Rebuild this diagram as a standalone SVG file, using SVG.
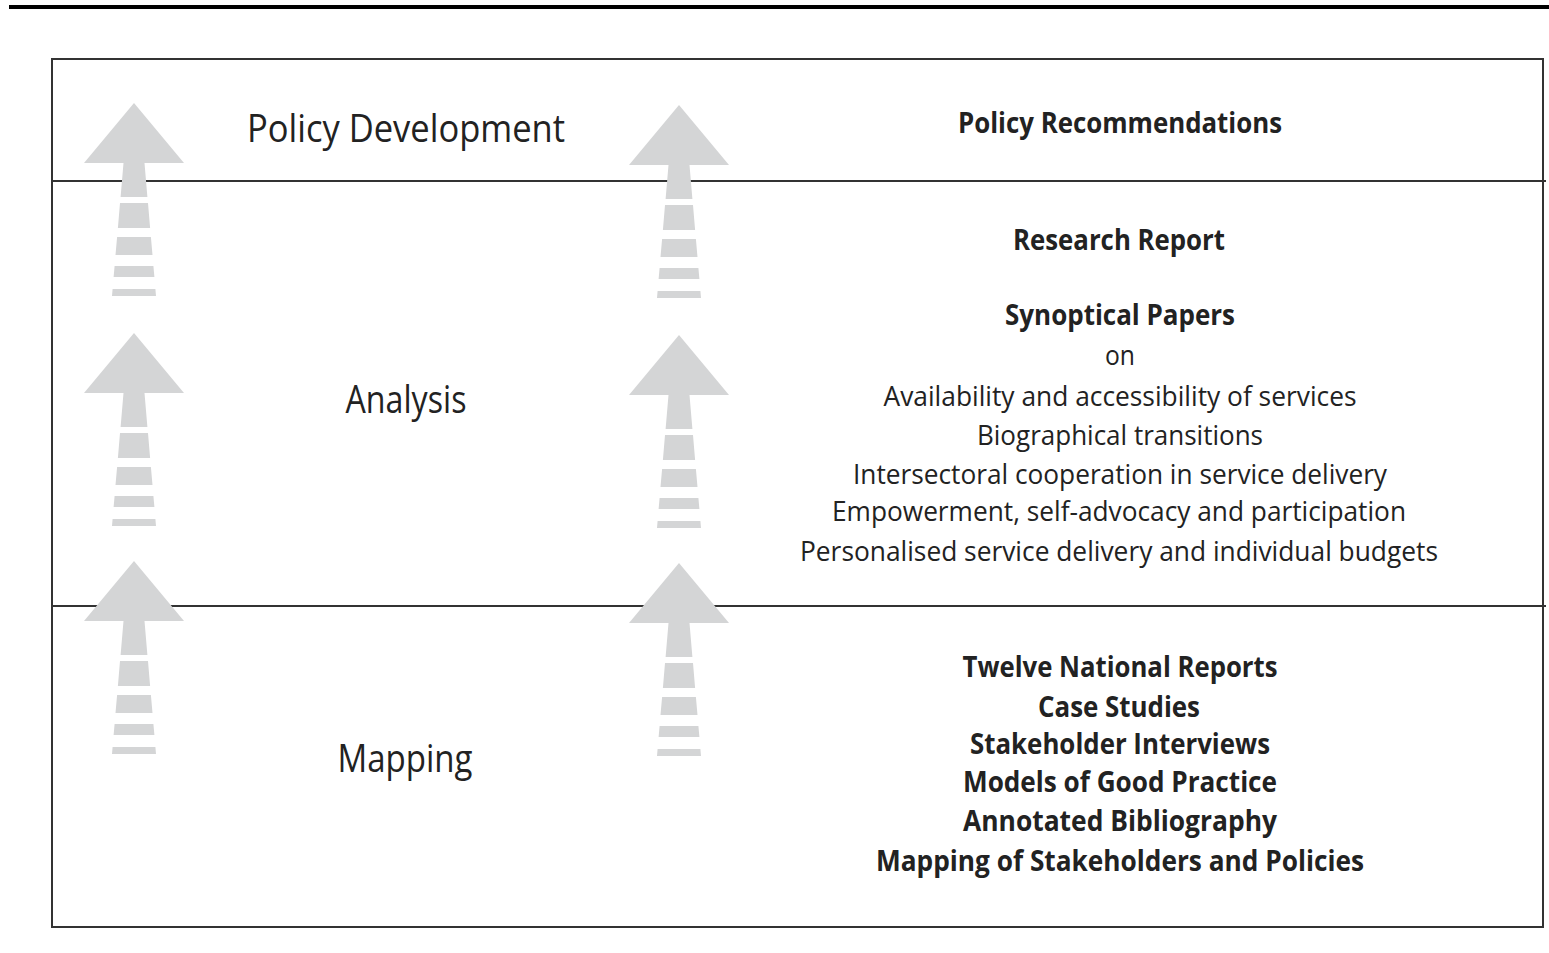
<svg xmlns="http://www.w3.org/2000/svg" xmlns:xlink="http://www.w3.org/1999/xlink" width="1549" height="953" viewBox="0 0 1549 953">
<style>
.ln{stroke:#333;stroke-width:2;fill:none}
.arr{fill:#d4d5d6}
.lab{font-family:"Open Sans","Noto Sans",sans-serif;font-size:38px;fill:#222;text-anchor:middle}
.reg{font-family:"Open Sans","Noto Sans",sans-serif;font-size:28px;fill:#222;text-anchor:middle}
.bld{font-family:"Open Sans","Noto Sans",sans-serif;font-size:28px;font-weight:bold;fill:#222;text-anchor:middle}
</style>
<defs>
<path id="uparrow" class="arr" d="M0,0 L50,60 L10.5,60 L13.4,94 L-13.4,94 L-10.5,60 L-50,60 Z M-14,100 L14,100 L16.1,125 L-16.1,125 Z M-16.9,134 L16.9,134 L18.5,152 L-18.5,152 Z M-19.4,163 L19.4,163 L20.4,174 L-20.4,174 Z M-21.4,186 L21.4,186 L22,193 L-22,193 Z"/>
</defs>
<rect width="1549" height="953" fill="#ffffff"/>
<rect x="9" y="5" width="1540" height="4" fill="#000"/>
<g id="frame">
<rect class="ln" x="52" y="59" width="1491" height="868"/>
<line class="ln" x1="52" y1="181" x2="1546" y2="181"/>
<line class="ln" x1="52" y1="606" x2="1546" y2="606"/>
</g>
<g id="connectors">
<use xlink:href="#uparrow" x="134" y="103"/>
<use xlink:href="#uparrow" x="134" y="333"/>
<use xlink:href="#uparrow" x="134" y="561"/>
<use xlink:href="#uparrow" x="679" y="105"/>
<use xlink:href="#uparrow" x="679" y="335"/>
<use xlink:href="#uparrow" x="679" y="563"/>
</g>
<g id="policy-development">
<text class="lab" x="406" y="142" textLength="318" lengthAdjust="spacingAndGlyphs">Policy Development</text>
<text class="bld" x="1120" y="133" textLength="324" lengthAdjust="spacingAndGlyphs">Policy Recommendations</text>
</g>
<g id="analysis">
<text class="lab" x="406" y="413" textLength="121" lengthAdjust="spacingAndGlyphs">Analysis</text>
<text class="bld" x="1119" y="250" textLength="212" lengthAdjust="spacingAndGlyphs">Research Report</text>
<text class="bld" x="1120" y="325" textLength="230" lengthAdjust="spacingAndGlyphs">Synoptical Papers</text>
<text class="reg" x="1120" y="365" textLength="30" lengthAdjust="spacingAndGlyphs">on</text>
<text class="reg" x="1120" y="406" textLength="473" lengthAdjust="spacingAndGlyphs">Availability and accessibility of services</text>
<text class="reg" x="1120" y="445" textLength="286" lengthAdjust="spacingAndGlyphs">Biographical transitions</text>
<text class="reg" x="1120" y="484" textLength="534" lengthAdjust="spacingAndGlyphs">Intersectoral cooperation in service delivery</text>
<text class="reg" x="1119" y="521" textLength="574" lengthAdjust="spacingAndGlyphs">Empowerment, self-advocacy and participation</text>
<text class="reg" x="1119" y="561" textLength="638" lengthAdjust="spacingAndGlyphs">Personalised service delivery and individual budgets</text>
</g>
<g id="mapping">
<text class="lab" x="405" y="772" textLength="135" lengthAdjust="spacingAndGlyphs">Mapping</text>
<text class="bld" x="1120" y="677" textLength="315" lengthAdjust="spacingAndGlyphs">Twelve National Reports</text>
<text class="bld" x="1119" y="717" textLength="162" lengthAdjust="spacingAndGlyphs">Case Studies</text>
<text class="bld" x="1120" y="754" textLength="300" lengthAdjust="spacingAndGlyphs">Stakeholder Interviews</text>
<text class="bld" x="1120" y="792" textLength="314" lengthAdjust="spacingAndGlyphs">Models of Good Practice</text>
<text class="bld" x="1120" y="831" textLength="314" lengthAdjust="spacingAndGlyphs">Annotated Bibliography</text>
<text class="bld" x="1120" y="871" textLength="488" lengthAdjust="spacingAndGlyphs">Mapping of Stakeholders and Policies</text>
</g>
</svg>
